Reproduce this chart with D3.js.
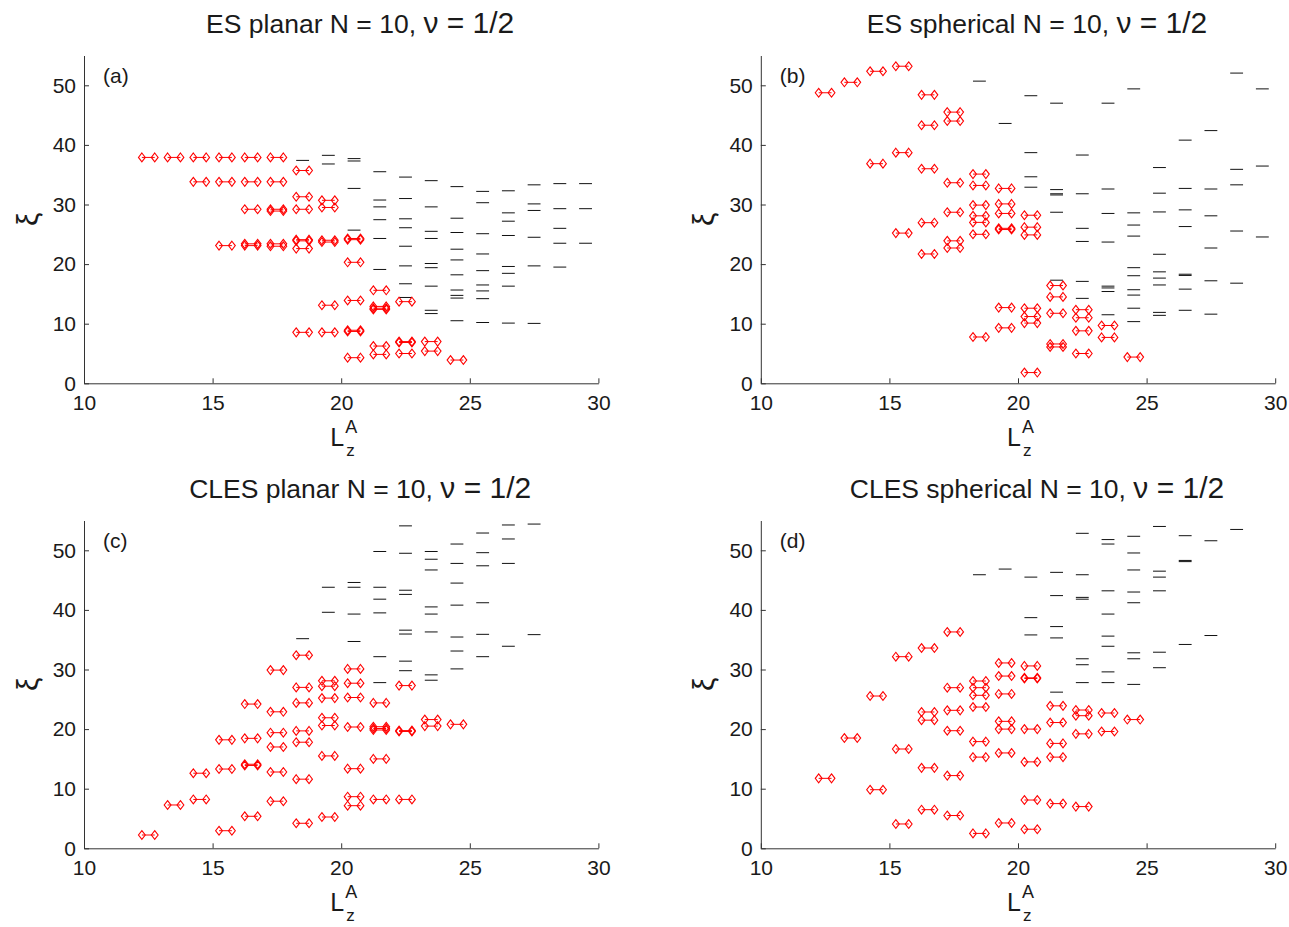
<!DOCTYPE html>
<html>
<head>
<meta charset="utf-8">
<script src="https://cdn.jsdelivr.net/npm/d3@7"></script>
<style>
  body { margin: 0; background: #fff; }
  svg { display: block; }
  text { font-family: "Liberation Sans", Arial, Helvetica, sans-serif; fill: #1a1a1a; }
</style>
</head>
<body>
<svg id="chart" width="1289" height="927"></svg>
<script>
// Angular momentum sectors L_z^A (one column of levels per sector)
const lzValues = [12.5, 13.5, 14.5, 15.5, 16.5, 17.5, 18.5, 19.5, 20.5,
                  21.5, 22.5, 23.5, 24.5, 25.5, 26.5, 27.5, 28.5, 29.5];
const xTicks = [10, 15, 20, 25, 30];
const yTicks = [0, 10, 20, 30, 40, 50];

// (a) ES planar: low-lying (red) and generic (black) entanglement levels per sector
const esPlanarLow = [
  [37.9], [37.9], [37.9, 33.8], [37.9, 33.8, 23.1],
  [37.9, 33.8, 29.2, 23.4, 23.1], [37.9, 33.8, 29.2, 28.9, 23.4, 23.0],
  [35.7, 31.3, 29.2, 24.1, 23.9, 22.6, 8.55], [30.7, 29.5, 24.0, 23.7, 13.1, 8.55],
  [24.3, 24.1, 20.3, 13.9, 8.9, 8.7, 4.3], [15.6, 12.9, 12.6, 12.4, 6.25, 4.85],
  [13.7, 7.0, 6.85, 5.0], [7.0, 5.4], [3.9], [], [], [], [], []
];
const esPlanarHigh = [
  [], [], [], [], [], [],
  [37.4], [38.25, 36.8], [37.7, 37.3, 32.7, 25.7],
  [35.5, 30.75, 29.6, 27.45, 24.3, 19.1],
  [34.6, 31.0, 27.6, 26.1, 23.0, 19.7, 16.7, 14.4],
  [34.0, 29.6, 25.5, 24.3, 20.1, 19.4, 16.3, 12.25, 11.7],
  [33.0, 27.7, 25.3, 22.5, 20.7, 18.2, 15.65, 14.75, 14.3, 10.5],
  [32.2, 30.3, 25.1, 21.7, 18.9, 16.5, 15.5, 14.2, 10.2],
  [32.3, 28.6, 27.2, 24.8, 19.6, 18.45, 16.3, 10.1],
  [33.3, 30.1, 29.0, 24.5, 19.7, 10.05],
  [33.5, 29.3, 26.0, 23.5, 19.5],
  [33.5, 29.3, 23.5]
];

// (b) ES spherical
const esSphericalLow = [
  [48.75], [50.5], [52.35, 36.85], [53.2, 38.7, 25.2],
  [48.4, 43.3, 36.0, 26.95, 21.7], [45.5, 44.0, 33.65, 28.7, 23.9, 22.7],
  [35.1, 33.2, 29.9, 28.1, 27.0, 25.0, 7.77], [32.7, 30.1, 28.5, 26.0, 25.8, 12.7, 9.3],
  [28.2, 26.2, 24.9, 12.6, 11.2, 10.1, 1.8], [16.4, 14.5, 11.75, 6.6, 6.1],
  [12.35, 11.0, 8.8, 5.0], [9.7, 7.7], [4.4], [], [], [], [], []
];
const esSphericalHigh = [
  [], [], [], [], [], [],
  [50.7], [43.6], [48.25, 38.7, 34.65, 32.9],
  [47.0, 32.5, 31.8, 31.6, 28.7, 17.3],
  [38.3, 31.8, 26.0, 23.8, 17.1, 14.25],
  [47.0, 32.6, 28.5, 23.7, 16.3, 16.0, 15.4, 11.5],
  [49.4, 28.6, 26.55, 24.7, 19.4, 18.05, 15.7, 14.8, 12.6, 10.35],
  [36.2, 31.9, 28.75, 21.65, 18.7, 17.65, 16.5, 11.9, 11.4],
  [40.8, 32.7, 29.1, 26.3, 18.3, 18.1, 15.8, 12.25],
  [42.4, 32.6, 28.1, 22.7, 17.2, 11.6],
  [52.05, 35.9, 33.3, 25.55, 16.8],
  [49.4, 36.45, 24.55]
];

// (c) CLES planar
const clesPlanarLow = [
  [2.23], [7.27], [12.6, 8.2], [18.2, 13.3, 2.95],
  [24.2, 18.45, 14.1, 13.9, 5.37], [29.9, 22.9, 19.4, 17.0, 12.8, 7.9],
  [32.4, 27.0, 24.4, 19.7, 17.8, 11.6, 4.2], [28.1, 27.2, 25.2, 21.9, 20.6, 15.5, 5.25],
  [30.1, 27.7, 25.3, 20.35, 13.36, 8.66, 7.15], [24.4, 20.4, 20.1, 19.85, 15.0, 8.2],
  [27.3, 19.75, 19.6, 8.2], [21.6, 20.5], [20.8], [], [], [], [], []
];
const clesPlanarHigh = [
  [], [], [], [], [], [],
  [35.17], [43.8, 39.6], [44.6, 43.8, 39.3, 34.7],
  [49.8, 43.8, 41.8, 39.5, 32.15, 27.8],
  [54.1, 49.5, 43.3, 42.6, 36.6, 35.95, 31.4, 29.8],
  [49.8, 48.5, 46.7, 40.5, 39.3, 36.3, 29.1, 28.2],
  [51.05, 47.8, 44.5, 40.8, 35.45, 33.1, 30.1],
  [52.9, 49.6, 47.4, 41.2, 35.9, 32.15],
  [54.25, 51.9, 47.8, 33.9],
  [54.4, 35.85],
  [], []
];

// (d) CLES spherical
const clesSphericalLow = [
  [11.74], [18.5], [25.55, 9.83], [32.15, 16.66, 4.08],
  [33.6, 22.87, 21.5, 13.5, 6.48], [36.3, 26.95, 23.15, 19.73, 12.2, 5.5],
  [28.07, 26.95, 25.67, 23.7, 17.9, 15.3, 2.5], [31.1, 28.9, 25.9, 21.3, 20.0, 16.0, 4.25],
  [30.6, 28.6, 28.5, 20.0, 14.5, 8.1, 3.2], [23.9, 21.1, 17.6, 15.3, 7.5],
  [23.2, 22.25, 19.2, 7.0], [22.7, 19.6], [21.6], [], [], [], [], []
];
const clesSphericalHigh = [
  [], [], [], [], [], [],
  [45.9], [46.85], [45.5, 38.7, 35.8],
  [46.3, 42.4, 37.2, 35.3, 26.2],
  [52.85, 45.9, 42.1, 41.8, 31.8, 30.8, 27.8],
  [51.8, 51.05, 43.2, 39.3, 35.6, 33.9, 29.6, 27.8],
  [52.35, 49.55, 46.7, 43.0, 41.2, 32.8, 31.8, 27.5],
  [54.0, 46.5, 45.5, 43.2, 32.9, 30.3],
  [52.45, 48.3, 48.1, 34.2],
  [51.6, 35.7],
  [53.5], []
];

const panelTitles = ["ES planar N = 10, ", "ES spherical N = 10, ",
                     "CLES planar N = 10, ", "CLES spherical N = 10, "];
const titleTail = "\u03bd = 1/2";
const panelTags = ["(a)", "(b)", "(c)", "(d)"];

const panels = [
  { low: esPlanarLow, high: esPlanarHigh },
  { low: esSphericalLow, high: esSphericalHigh },
  { low: clesPlanarLow, high: clesPlanarHigh },
  { low: clesSphericalLow, high: clesSphericalHigh }
];

const svg = d3.select("#chart");
const halfWidth = 0.25;          // half-length of each level segment, in L_z units
const diamond = "M0,-4.4L3.4,0L0,4.4L-3.4,0Z";
const axisColor = "#333";

function flatten(cols) {
  return cols.flatMap((col, i) => col.map(v => ({ lz: lzValues[i], xi: v })));
}

panels.forEach((p, i) => {
  const col = i % 2, row = Math.floor(i / 2);
  const left = col === 0 ? 84 : 760.8;
  const right = left + 514.4;
  const bottom = row === 0 ? 383.3 : 848.3;
  const top = bottom - 327.8;

  const x = d3.scaleLinear().domain([10, 30]).range([left, right]);
  const y = d3.scaleLinear().domain([0, 55]).range([bottom, top]);
  const g = svg.append("g");

  // axes (left and bottom only, ticks pointing inward)
  const xAxis = g.append("g")
    .attr("transform", `translate(0,${bottom})`)
    .call(d3.axisBottom(x).tickValues(xTicks).tickFormat(d3.format("d"))
      .tickSizeInner(-5).tickSizeOuter(0).tickPadding(12));
  const yAxis = g.append("g")
    .attr("transform", `translate(${left},0)`)
    .call(d3.axisLeft(y).tickValues(yTicks).tickFormat(d3.format("d"))
      .tickSizeInner(-5).tickSizeOuter(0).tickPadding(8));
  [xAxis, yAxis].forEach(a => {
    a.attr("font-size", null).attr("font-family", null);
    a.selectAll("path, line").attr("stroke", axisColor);
    a.selectAll("text").attr("font-size", 21).attr("fill", "#1a1a1a");
  });

  // generic levels: plain short segments
  g.append("g").selectAll("line")
    .data(flatten(p.high))
    .join("line")
    .attr("x1", d => x(d.lz - halfWidth))
    .attr("x2", d => x(d.lz + halfWidth))
    .attr("y1", d => y(d.xi))
    .attr("y2", d => y(d.xi))
    .attr("stroke", "#111")
    .attr("stroke-width", 1);

  // low-lying levels: red segments with diamond end markers
  const lowG = g.append("g").selectAll("g")
    .data(flatten(p.low))
    .join("g");
  lowG.append("line")
    .attr("x1", d => x(d.lz - halfWidth))
    .attr("x2", d => x(d.lz + halfWidth))
    .attr("y1", d => y(d.xi))
    .attr("y2", d => y(d.xi))
    .attr("stroke", "#f00")
    .attr("stroke-width", 1);
  [-halfWidth, halfWidth].forEach(off => {
    lowG.append("path")
      .attr("d", diamond)
      .attr("transform", d => `translate(${x(d.lz + off)},${y(d.xi)})`)
      .attr("fill", "none")
      .attr("stroke", "#f00")
      .attr("stroke-width", 1.1);
  });

  const cx = (left + right) / 2;

  // title
  const t = g.append("text")
    .attr("x", cx + 19)
    .attr("y", bottom - 350)
    .attr("text-anchor", "middle")
    .attr("font-size", 26.5);
  t.append("tspan").text(panelTitles[i]);
  t.append("tspan").attr("font-size", 30).text(titleTail);

  // panel tag
  g.append("text")
    .attr("x", left + 19)
    .attr("y", top + 27)
    .attr("font-size", 21)
    .text(panelTags[i]);

  // x label: L_z^A
  g.append("text").attr("x", cx - 11).attr("y", bottom + 63)
    .attr("font-size", 25).text("L");
  g.append("text").attr("x", cx + 4).attr("y", bottom + 50)
    .attr("font-size", 18).text("A");
  g.append("text").attr("x", cx + 5).attr("y", bottom + 73)
    .attr("font-size", 17).text("z");

  // y label: xi, rotated with the axis
  g.append("text")
    .attr("transform", `translate(${left - 57},${(top + bottom) / 2}) rotate(-90)`)
    .attr("text-anchor", "middle")
    .attr("dominant-baseline", "central")
    .attr("font-family", "'DejaVu Serif', 'Liberation Serif', serif")
    .attr("font-size", 30)
    .text("\u03be");
});
</script>
</body>
</html>
